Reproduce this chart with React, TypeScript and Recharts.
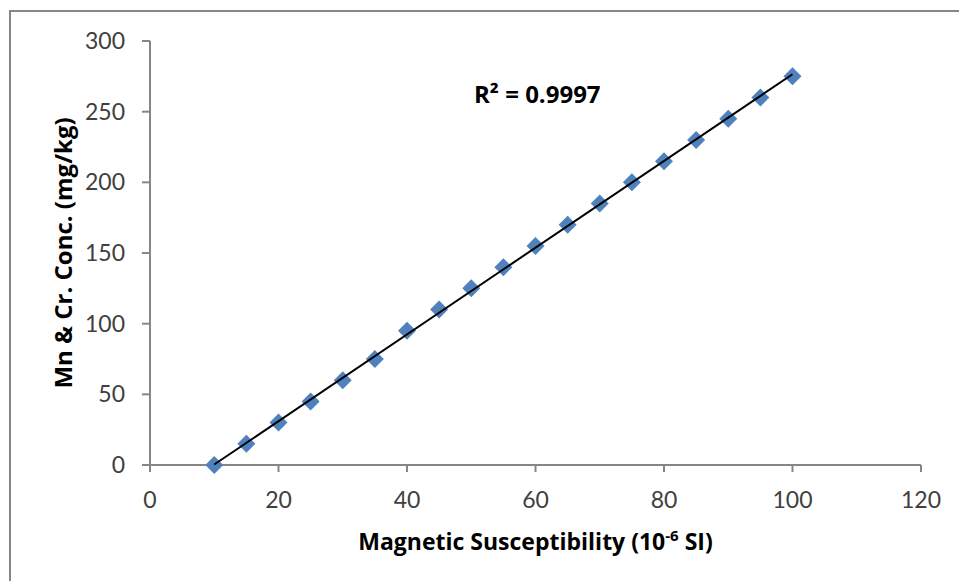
import React from "react";
import { ScatterChart, Scatter, XAxis, YAxis, Label } from "recharts";

// Magnetic susceptibility (10^-6 SI)
const susceptibility = [10, 15, 20, 25, 30, 35, 40, 45, 50, 55, 60, 65, 70, 75, 80, 85, 90, 95, 100];
// Mn & Cr concentration (mg/kg)
const concentration = [0, 15, 30, 45, 60, 75, 95, 110, 125, 140, 155, 170, 185, 200, 215, 230, 245, 260, 275];

const xTicks = [0, 20, 40, 60, 80, 100, 120];
const yTicks = [0, 50, 100, 150, 200, 250, 300];

const R2_TEXT = "R² = 0.9997";

const FONT = "Lato, 'Open Sans', sans-serif";
const BOLD_FONT = "'Open Sans', Lato, sans-serif";
const AXIS_GRAY = "#868686";
const MARKER_BLUE = "#4F81BD";

const points = susceptibility.map((x, i) => ({ x, y: concentration[i] }));

// least squares trendline, drawn across the data range
const n = points.length;
const meanX = points.reduce((s, p) => s + p.x, 0) / n;
const meanY = points.reduce((s, p) => s + p.y, 0) / n;
const slope =
  points.reduce((s, p) => s + (p.x - meanX) * (p.y - meanY), 0) /
  points.reduce((s, p) => s + (p.x - meanX) ** 2, 0);
const intercept = meanY - slope * meanX;
const xMin = Math.min(...susceptibility);
const xMax = Math.max(...susceptibility);
const trend = [
  { x: xMin, y: slope * xMin + intercept },
  { x: xMax, y: slope * xMax + intercept },
];

const Diamond = (props: any) => {
  const { cx, cy } = props;
  const r = 9;
  return (
    <polygon
      points={`${cx},${cy - r} ${cx + r},${cy} ${cx},${cy + r} ${cx - r},${cy}`}
      fill={MARKER_BLUE}
    />
  );
};

const NoShape = () => <g />;

export default function App() {
  return (
    <div
      style={{
        position: "absolute",
        left: 0,
        top: 0,
        width: 959,
        height: 581,
        overflow: "hidden",
        background: "#fff",
      }}
    >
      <div
        style={{
          position: "absolute",
          left: 9,
          top: 10,
          width: 1000,
          height: 700,
          border: `2px solid ${AXIS_GRAY}`,
        }}
      />
      <div style={{ position: "absolute", left: 0, top: 0 }}>
        <ScatterChart
          width={959}
          height={581}
          margin={{ top: 41, right: 38, bottom: 36, left: 10 }}
        >
          <XAxis
            type="number"
            dataKey="x"
            domain={[0, 120]}
            ticks={xTicks}
            interval={0}
            height={80}
            tickSize={7}
            tickMargin={20}
            axisLine={{ stroke: AXIS_GRAY, strokeWidth: 2 }}
            tickLine={{ stroke: AXIS_GRAY, strokeWidth: 2 }}
            tick={{ fill: "#404040", fontSize: 23, fontFamily: FONT }}
          >
            <Label
              content={(p: any) => {
                const vb = p.viewBox;
                return (
                  <text
                    x={vb.x + vb.width / 2}
                    y={550}
                    textAnchor="middle"
                    fontFamily={BOLD_FONT}
                    fontWeight="bold"
                    fontSize={23}
                    fill="#000"
                  >
                    Magnetic Susceptibility (10
                    <tspan dy={-9} fontSize={15}>-6</tspan>
                    <tspan dy={9}> SI)</tspan>
                  </text>
                );
              }}
            />
          </XAxis>
          <YAxis
            type="number"
            dataKey="y"
            domain={[0, 300]}
            ticks={yTicks}
            interval={0}
            width={140}
            tickSize={8}
            tickMargin={17}
            axisLine={{ stroke: AXIS_GRAY, strokeWidth: 2 }}
            tickLine={{ stroke: AXIS_GRAY, strokeWidth: 2 }}
            tick={{ fill: "#404040", fontSize: 23, fontFamily: FONT }}
          >
            <Label
              content={(p: any) => {
                const vb = p.viewBox;
                const cy = vb.y + vb.height / 2;
                return (
                  <text
                    x={62}
                    y={cy}
                    transform={`rotate(-90, 62, ${cy})`}
                    textAnchor="middle"
                    dominantBaseline="central"
                    fontFamily={BOLD_FONT}
                    fontWeight="bold"
                    fontSize={24}
                    fill="#000"
                  >
                    Mn &amp; Cr. Conc. (mg/kg)
                  </text>
                );
              }}
            />
          </YAxis>
          <Scatter
            data={points}
            shape={<Diamond />}
            isAnimationActive={false}
          />
          <Scatter
            data={trend}
            line={{ stroke: "#000", strokeWidth: 2 }}
            shape={<NoShape />}
            isAnimationActive={false}
          />
        </ScatterChart>
      </div>
      <div
        style={{
          position: "absolute",
          left: 474,
          top: 80,
          fontFamily: BOLD_FONT,
          fontWeight: "bold",
          fontSize: 24,
          lineHeight: "28px",
          color: "#000",
          whiteSpace: "nowrap",
        }}
      >
        {R2_TEXT}
      </div>
    </div>
  );
}
